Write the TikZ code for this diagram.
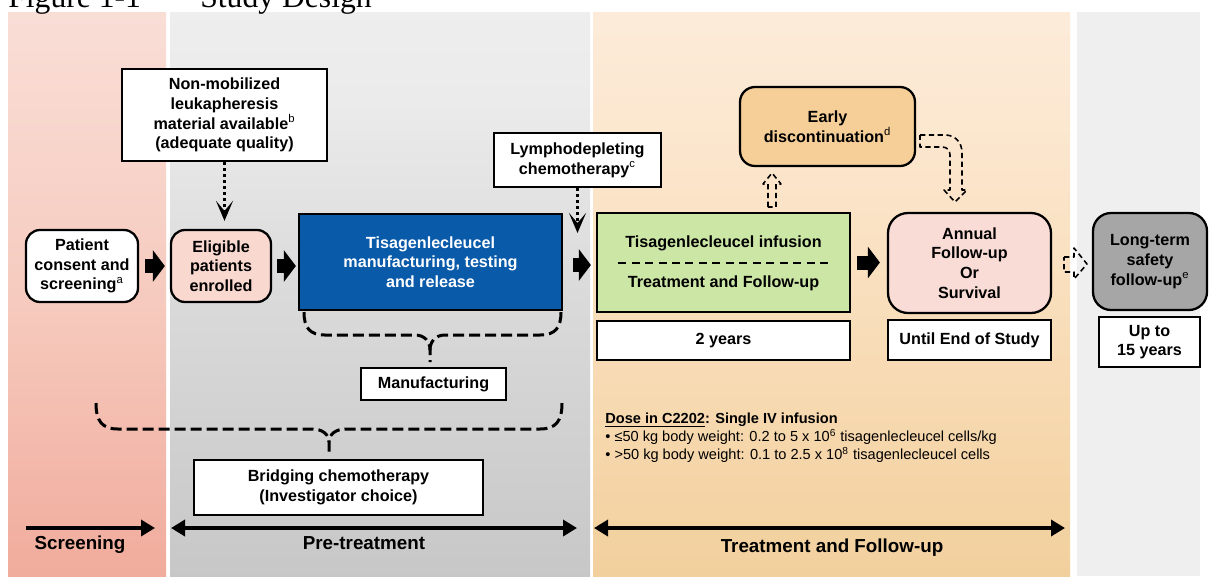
\documentclass[tikz,border=0pt]{standalone}
\usepackage{fontspec}
\setmainfont{Liberation Sans}
\newfontfamily\titlefont{Liberation Serif}
\usetikzlibrary{arrows.meta,calc}
\definecolor{pinkT}{HTML}{FDF1EE}
\definecolor{pinkM}{HTML}{F6CBBF}
\definecolor{pinkD}{HTML}{EFA494}
\definecolor{pinkB}{HTML}{F4BCAE}
\definecolor{grayT}{HTML}{F6F6F6}
\definecolor{grayU}{HTML}{EBEBEB}
\definecolor{grayM}{HTML}{DADADA}
\definecolor{grayD}{HTML}{C2C2C2}
\definecolor{grayB}{HTML}{CDCDCD}
\definecolor{oraT}{HTML}{FEF6EE}
\definecolor{oraU}{HTML}{FCE8D2}
\definecolor{oraM}{HTML}{F7D9B0}
\definecolor{oraD}{HTML}{F0CC96}
\definecolor{oraB}{HTML}{F7D9B0}
\definecolor{lgray}{HTML}{EFEFEF}
\definecolor{mblue}{RGB}{10,90,170}
\definecolor{mgreen}{RGB}{204,230,165}
\definecolor{epink}{RGB}{249,216,208}
\definecolor{apink}{RGB}{249,220,213}
\definecolor{ltgray}{HTML}{A6A6A6}
\definecolor{etan}{RGB}{246,206,152}
\pgfdeclareverticalshading{pinkshade}{100bp}{color(0bp)=(pinkB); color(19bp)=(pinkD); color(50bp)=(pinkM); color(100bp)=(pinkT)}
\pgfdeclareverticalshading{grayshade}{100bp}{color(0bp)=(grayB); color(18bp)=(grayD); color(50bp)=(grayM); color(67bp)=(grayU); color(100bp)=(grayT)}
\pgfdeclareverticalshading{orashade}{100bp}{color(0bp)=(oraB); color(19bp)=(oraD); color(40bp)=(oraM); color(67bp)=(oraU); color(100bp)=(oraT)}
\newcommand{\boxfont}{\fontsize{9.2}{11.2}\selectfont\bfseries}
\newcommand{\tlfont}{\fontsize{10.7}{12}\selectfont\bfseries}
\newcommand{\sups}[1]{\textsuperscript{\mdseries #1}}
\begin{document}
\begin{tikzpicture}[x=0.02cm,y=-0.02cm,
  box/.style={draw=black, line width=1.3pt, fill=white, inner sep=1pt, align=center, font=\boxfont},
  rbox/.style={box, rounded corners=0.28cm},
  blockarr/.style={line width=0.28cm, -{Triangle[length=0.24cm,width=0.62cm]}},
  dotarr/.style={line width=0.065cm, dash pattern=on 0.06cm off 0.06cm, -{Stealth[length=0.4cm,width=0.34cm,inset=0.2cm]}},
  bracepath/.style={line width=0.06cm, dash pattern=on 0.22cm off 0.1cm},
  dasharr/.style={line width=0.9pt, dash pattern=on 3pt off 2pt, line join=round},
  timearr/.style={line width=0.08cm, -{Triangle[length=0.28cm,width=0.32cm]}},
  dbltime/.style={line width=0.08cm, {Triangle[length=0.28cm,width=0.32cm]}-{Triangle[length=0.28cm,width=0.32cm]}},
  tl/.style={font=\tlfont, inner sep=0}]
\useasboundingbox (0,0) rectangle (1209,576);
\clip (0,0) rectangle (1209,576);
\fill[white] (0,0) rectangle (1209,576);
% panels
\shade[shading=pinkshade] (8,12) rectangle (166,576);
\shade[shading=grayshade] (170,12) rectangle (590,576);
\shade[shading=orashade] (593,12) rectangle (1070,576);
\fill[lgray] (1077,12) rectangle (1200,576);
% title
\node[anchor=base west, inner sep=0, font=\titlefont\fontsize{18}{18}\selectfont] (title1) at (8,7) {Figure 1-1};
\node[anchor=base west, inner sep=0, font=\titlefont\fontsize{18}{18}\selectfont] (title2) at (200,7) {Study Design};
% nodes
\node[box, minimum width=4.10cm, minimum height=1.84cm] (nonmob) at (224.5,115) {Non-mobilized\\leukapheresis\\material available\sups{b}\\(adequate quality)};
\node[box, minimum width=3.34cm, minimum height=1.08cm] (lympho) at (577.5,160) {Lymphodepleting\\chemotherapy\sups{c}};
\node[rbox, minimum width=2.24cm, minimum height=1.44cm] (patient) at (82,266) {Patient\\consent and\\screening\sups{a}};
\node[rbox, fill=epink, minimum width=2.0cm, minimum height=1.44cm] (eligible) at (221,266) {Eligible\\patients\\enrolled};
\node[box, fill=mblue, text=white, minimum width=5.26cm, minimum height=1.92cm] (blue) at (430.5,262) {Tisagenlecleucel\\manufacturing, testing\\and release};
\node[box, fill=mgreen, minimum width=5.06cm, minimum height=1.98cm] (green) at (723.5,262.5) {};
\node[font=\boxfont, inner sep=0] (infusion) at (723.5,243) {Tisagenlecleucel infusion};
\node[font=\boxfont, inner sep=0] (tfu) at (723.5,283) {Treatment and Follow-up};
\draw[line width=0.04cm, dash pattern=on 0.16cm off 0.11cm] (618,263) -- (830,263);
\node[rbox, fill=apink, rounded corners=0.4cm, minimum width=3.26cm, minimum height=2.0cm] (annual) at (969.5,263) {Annual\\Follow-up\\Or\\Survival};
\node[rbox, fill=ltgray, rounded corners=0.36cm, minimum width=2.28cm, minimum height=1.94cm] (longterm) at (1150,261.5) {Long-term\\safety\\follow-up\sups{e}};
\node[rbox, fill=etan, rounded corners=0.3cm, minimum width=3.5cm, minimum height=1.58cm] (early) at (827.5,126.5) {Early\\discontinuation\sups{d}};
\node[box, minimum width=5.06cm, minimum height=0.78cm] (twoyears) at (723.5,340.5) {2 years};
\node[box, minimum width=3.26cm, minimum height=0.80cm] (untilend) at (969.5,340) {Until End of Study};
\node[box, minimum width=2.02cm, minimum height=1.0cm] (upto) at (1149.5,342) {Up to\\15 years};
\node[box, minimum width=2.9cm, minimum height=0.64cm] (manuf) at (433.5,384) {Manufacturing};
\node[box, minimum width=5.78cm, minimum height=1.1cm] (bridging) at (338.5,487.5) {Bridging chemotherapy\\(Investigator choice)};
% block arrows
\draw[blockarr, shorten <=0.12cm, shorten >=0.1cm] (patient.east) -- (patient.east -| eligible.west);
\draw[blockarr, shorten <=0.1cm, shorten >=0.04cm] (eligible.east) -- (eligible.east -| blue.west);
\draw[blockarr, shorten <=0.2cm, shorten >=0.1cm] ([yshift=-0.06cm]blue.east) -- ([yshift=-0.06cm]blue.east -| green.west);
\draw[blockarr, shorten <=0.12cm, shorten >=0.14cm] (green.east) -- (green.east -| annual.west);
% dotted arrows
\draw[dotarr, shorten >=0.16cm] (nonmob.south) -- (nonmob.south |- eligible.north);
\coordinate (lyend) at (577.5,233);
\draw[dotarr] (lympho.south) -- (lyend);
% dashed outline arrows
\draw[dasharr] (768,207) -- (768,184) -- (763,184) -- (772,173) -- (781,184) -- (776,184) -- (776,207) -- cycle;
\draw[dasharr] (920,135) -- (945,135) .. controls (955,135) and (962,142) .. (962,153) -- (962,190) -- (967,190) -- (955,202) -- (944,190) -- (950,190) -- (950,155) .. controls (950,150) and (947,147) .. (942,147) -- (920,147) -- cycle;
\draw[dasharr] (1064,257) -- (1074,257) -- (1074,248) -- (1087,264) -- (1074,279) -- (1074,272) -- (1064,272) -- cycle;
% braces
\draw[bracepath] (304,312) .. controls (304,328) and (310,335) .. (325,335) -- (415,335) .. controls (425,335) and (430,342) .. (430,350) -- (430,362);
\draw[bracepath] (561,312) .. controls (561,328) and (555,335) .. (540,335) -- (445,335) .. controls (435,335) and (430,342) .. (430,350);
\draw[bracepath] (96,403) .. controls (96,421) and (102,429) .. (118,429) -- (312,429) .. controls (322,429) and (329,434) .. (329,442) -- (329,452);
\draw[bracepath] (562,403) .. controls (562,421) and (556,429) .. (540,429) -- (346,429) .. controls (336,429) and (329,434) .. (329,442);
% dose text
\node[anchor=north west, align=left, inner sep=0, font=\fontsize{8.3}{10}\selectfont] (dose) at (605,413) {\textbf{\underline{Dose in C2202}: Single IV infusion}\\ • ≤50 kg body weight: 0.2 to 5 x 10\textsuperscript{6} tisagenlecleucel cells/kg\\ • >50 kg body weight: 0.1 to 2.5 x 10\textsuperscript{8} tisagenlecleucel cells};
% timeline
\coordinate (s1) at (26,528); \coordinate (s2) at (155,528);
\coordinate (p1) at (171,528); \coordinate (p2) at (577,528);
\coordinate (t1) at (594,528); \coordinate (t2) at (1065,528);
\draw[timearr] (s1) -- (s2);
\draw[dbltime] (p1) -- (p2);
\draw[dbltime] (t1) -- (t2);
\node[tl] (lscr) at (80,545) {Screening};
\node[tl] (lpre) at (364,543) {Pre-treatment};
\node[tl] (ltrt) at (832,548) {Treatment and Follow-up};
\end{tikzpicture}
\end{document}
